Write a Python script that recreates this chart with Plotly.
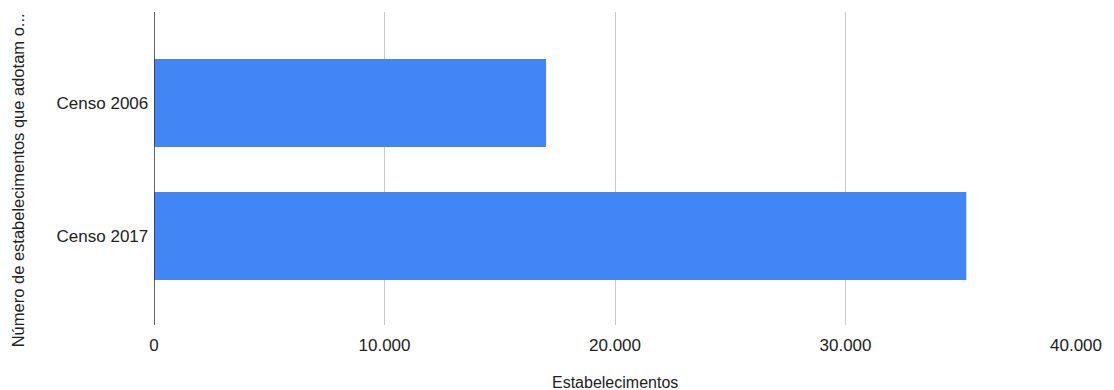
import plotly.graph_objects as go

categories = ["Censo 2006", "Censo 2017"]
values = [17010, 35240]
x_ticks = [0, 10000, 20000, 30000, 40000]
x_tick_labels = ["0", "10.000", "20.000", "30.000", "40.000"]

W, H = 1114, 390
L, R, T, B = 154, 36, 12, 65

fig = go.Figure(go.Bar(
    y=categories, x=values, orientation="h",
    marker=dict(color="#4285F4", line=dict(width=0)),
))

fig.update_layout(
    width=W, height=H,
    margin=dict(l=L, r=R, t=T, b=B),
    paper_bgcolor="white", plot_bgcolor="white",
    font=dict(family="Liberation Sans, Arial, sans-serif", size=17, color="#222222"),
    bargap=0.338,
    showlegend=False,
    xaxis=dict(
        range=[0, 40000], tickvals=x_ticks, ticktext=x_tick_labels,
        showgrid=True, gridcolor="#cccccc", gridwidth=1,
        zeroline=False, showline=False, ticks="outside", ticklen=5, tickcolor="rgba(0,0,0,0)",
        tickfont=dict(size=17, color="#222222"),
    ),
    yaxis=dict(
        type="category", categoryorder="array", categoryarray=categories,
        range=[1.669, -0.684],
        showgrid=False, zeroline=False, showline=False, ticks="",
        tickfont=dict(size=17, color="#222222"),
        ticksuffix=" ",
    ),
    shapes=[dict(type="line", xref="x", yref="paper", x0=0, x1=0, y0=0, y1=1,
                 line=dict(color="#333333", width=1.5))],
    annotations=[
        dict(text="Estabelecimentos", xref="paper", yref="paper",
             x=(616 - L) / (W - L - R), y=-(382 - (H - B)) / (H - T - B),
             showarrow=False, font=dict(size=16, color="#222222"),
             xanchor="center", yanchor="middle"),
        dict(text="Número de estabelecimentos que adotam o...", xref="paper", yref="paper",
             x=-(L - 18) / (W - L - R), y=(H - B - 180) / (H - T - B),
             textangle=-90, showarrow=False, font=dict(size=16.5, color="#222222"),
             xanchor="center", yanchor="middle"),
    ],
)

fig.write_html("out.html")
